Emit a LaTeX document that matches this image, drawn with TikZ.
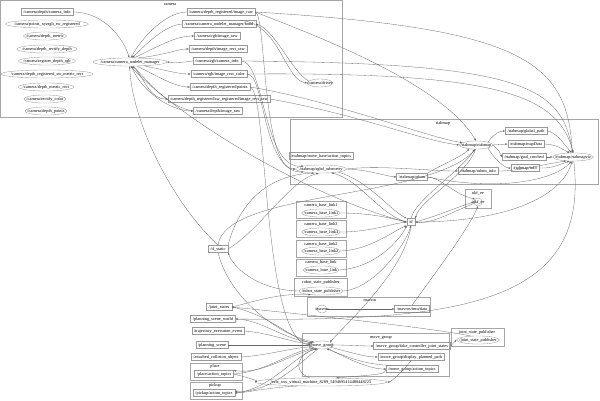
\documentclass[tikz,border=0pt]{standalone}
\usepackage{fontspec}
\setmainfont{Liberation Serif}
\usetikzlibrary{shapes.geometric, arrows.meta}

\tikzset{
    every node/.style={font=\fontsize{4.3}{4.7}\selectfont, text height=3pt, text depth=0.9pt},
    topic/.style={draw=gray!80, rectangle, line width=0.35pt, inner xsep=2.3pt, inner ysep=1.6pt},
    rosnode/.style={draw=gray!80, ellipse, line width=0.35pt, inner xsep=-3.5pt, inner ysep=0.9pt},
    cluster/.style={draw=gray!70, line width=0.4pt},
    link/.style={draw=black!60, line width=0.3pt, -{Triangle[length=2.2pt,width=1.6pt]}},
}

\begin{document}
\begin{tikzpicture}[x=1pt, y=-1pt]
    \useasboundingbox (0,0) rectangle (600,400);

    % clusters
    \draw[cluster] (0.5,0.5) rectangle (342,117);
    \node (camlbl) at (170,4) {camera};
    \draw[cluster] (290,119) rectangle (598,184);
    \node (rtablbl) at (443,123) {rtabmap};
    \draw[cluster] (465,189) rectangle (491,208);
    \node (ukflbl) at (478,193) {ukf\_ee};
    \draw[cluster] (296,201) rectangle (346,218);
    \node (cbla) at (321,205) {camera\_base\_link1};
    \draw[cluster] (296,220) rectangle (346,237);
    \node (cblb) at (321,224) {camera\_base\_link3};
    \draw[cluster] (296,240) rectangle (346,257);
    \node (cblc) at (321,244) {camera\_base\_link2};
    \draw[cluster] (296,259) rectangle (346,276);
    \node (cbld) at (321,262) {camera\_base\_link};
    \draw[cluster] (294,278) rectangle (347,296);
    \node (rsplbl) at (321,282) {robot\_state\_publisher};
    \draw[cluster] (307,297) rectangle (430,316);
    \node (mavlbl) at (370,300) {mavros};
    \draw[cluster] (302,333) rectangle (449,376);
    \node (mglbl) at (381,337) {move\_group};
    \draw[cluster] (451,328) rectangle (504,346);
    \node (jsplbl) at (477,332) {joint\_state\_publisher};
    \draw[cluster] (190,363) rectangle (242,380);
    \node (placelbl) at (215,366) {place};
    \draw[cluster] (190,382) rectangle (242,399);
    \node (picklbl) at (215,385) {pickup};

    % camera
    \node[topic] (cinfo) at (47,12) {/camera/depth/camera\_info};
    \node[rosnode] (ptsxyz) at (47,24) {/camera/points\_xyzrgb\_sw\_registered};
    \node[rosnode] (dmetric) at (45,36) {/camera/depth\_metric};
    \node[rosnode] (drectify) at (47,49) {/camera/depth\_rectify\_depth};
    \node[rosnode] (regrgb) at (47,61) {/camera/register\_depth\_rgb};
    \node[rosnode] (swmetric) at (47,74) {/camera/depth\_registered\_sw\_metric\_rect};
    \node[rosnode] (dmetricrect) at (46,87) {/camera/depth\_metric\_rect};
    \node[rosnode] (rectcolor) at (45,99) {/camera/rectify\_color};
    \node[rosnode] (dpoints) at (46,111) {/camera/depth\_points};
    \node[rosnode] (mgr) at (130,62) {/camera/camera\_nodelet\_manager};
    \node[topic] (regraw) at (221,12) {/camera/depth\_registered/image\_raw};
    \node[topic] (bond) at (219,24) {/camera/camera\_nodelet\_manager/bond};
    \node[topic] (rgbraw) at (217,36) {/camera/rgb/image\_raw};
    \node[topic] (drectraw) at (218,49) {/camera/depth/image\_rect\_raw};
    \node[topic] (rgbinfo) at (217,61) {/camera/rgb/camera\_info};
    \node[topic] (rgbrect) at (219,74) {/camera/rgb/image\_rect\_color};
    \node[topic] (regpts) at (220,87) {/camera/depth\_registered/points};
    \node[topic] (swrect) at (219,99) {/camera/depth\_registered/sw\_registered/image\_rect\_raw};
    \node[topic] (depthraw) at (218,111) {/camera/depth/image\_raw};
    \node[rosnode] (driver) at (320,83) {/camera/driver};

    % rtabmap
    \node[topic] (gpath) at (526,131) {/rtabmap/global\_path};
    \node[rosnode] (rtab) at (476,145) {/rtabmap/rtabmap};
    \node[topic] (mapdata) at (526,144) {/rtabmap/mapData};
    \node[topic] (goal) at (524,157) {/rtabmap/goal\_reached};
    \node[rosnode] (viz) at (573,157) {/rtabmap/rtabmapviz};
    \node[topic] (rinfo) at (525,168) {/rtabmap/info};
    \node[topic] (odominfo) at (478,171) {/rtabmap/odom\_info};
    \node[topic] (mbase) at (321,156) {/rtabmap/move\_base/action\_topics};
    \node[rosnode] (odomnode) at (321,169) {/rtabmap/rgbd\_odometry};
    \node[topic] (odom) at (412,177) {/rtabmap/odom};

    % transforms
    \node[rosnode] (ukf) at (478,202) {/ukf\_ee};
    \node[topic] (tf) at (411,222) {/tf};
    \node[topic] (tfstatic) at (218,249) {/tf\_static};
    \node[rosnode] (cbla-n) at (321,213) {/camera\_base\_link1};
    \node[rosnode] (cblb-n) at (321,232) {/camera\_base\_link3};
    \node[rosnode] (cblc-n) at (321,251) {/camera\_base\_link2};
    \node[rosnode] (cbld-n) at (321,270) {/camera\_base\_link};
    \node[rosnode] (rsp) at (321,291) {/robot\_state\_publisher};
    \node[rosnode] (mavros) at (322,309) {/mavros};
    \node[topic] (imu) at (412,309) {/mavros/imu/data};

    % move group
    \node[topic] (jstates) at (219,307) {/joint\_states};
    \node[topic] (psw) at (213,319) {/planning\_scene\_world};
    \node[topic] (tee) at (218,331) {/trajectory\_execution\_event};
    \node[topic] (ps) at (212,345) {/planning\_scene};
    \node[topic] (aco) at (216,357) {/attached\_collision\_object};
    \node[topic] (placeat) at (214,374) {/place/action\_topics};
    \node[topic] (pickat) at (214,393) {/pickup/action\_topics};
    \node[rosnode] (mg) at (322,345) {/move\_group};
    \node[topic] (fcjs) at (412,346) {/move\_group/fake\_controller\_joint\_states};
    \node[topic] (dpp) at (411,357) {/move\_group/display\_planned\_path};
    \node[topic] (mgat) at (412,369) {/move\_group/action\_topics};
    \node[rosnode] (jsp) at (478,340) {/joint\_state\_publisher};
    \node[rosnode] (rviz) at (321,382) {/rviz\_xxx\_virtual\_machine\_8289\_5494695414488448225};

    % camera links
    \draw[link] (cinfo.east) .. controls (105,12) and (124,40) .. (mgr.100);
    \draw[link] (regraw.west) .. controls (165,12) and (140,40) .. (mgr.75);
    \draw[link] (bond.west) .. controls (165,25) and (145,45) .. (mgr.60);
    \draw[link] (mgr.45) .. controls (155,48) and (175,36) .. (rgbraw.west);
    \draw[link] (mgr.25) .. controls (165,55) and (178,49) .. (drectraw.west);
    \draw[link] (rgbinfo.west) .. controls (185,62) and (178,63) .. (mgr.east);
    \draw[link] (mgr.-15) .. controls (165,70) and (178,74) .. (rgbrect.west);
    \draw[link] (mgr.-30) .. controls (155,75) and (175,87) .. (regpts.west);
    \draw[link] (mgr.-50) .. controls (145,80) and (150,99) .. (swrect.west);
    \draw[link] (mgr.-70) .. controls (140,90) and (170,111) .. (depthraw.west);
    \draw[link] (depthraw.west) .. controls (165,106) and (148,80) .. (mgr.-60);
    \draw[link] (bond.10) .. controls (280,24) and (285,80) .. (driver.west);
    \draw[link] (driver.170) .. controls (292,72) and (275,30) .. (bond.east);

    % camera to rtabmap and move group
    \draw[link] (regraw.east) .. controls (520,28) and (568,60) .. (viz.100);
    \draw[link] (rgbinfo.east) .. controls (520,63) and (562,85) .. (viz.95);
    \draw[link] (rgbrect.east) .. controls (500,72) and (558,95) .. (viz.85);
    \draw[link] (regraw.east) .. controls (300,30) and (440,80) .. (rtab.north);
    \draw[link] (swrect.east) .. controls (360,115) and (420,140) .. (rtab.west);
    \draw[link] (regpts.east) .. controls (330,100) and (430,138) .. (rtab.170);
    \draw[link] (regraw.east) .. controls (266,14) and (262,168) .. (odomnode.west);
    \draw[link] (rgbinfo.east) .. controls (265,61) and (263,170) .. (odomnode.170);
    \draw[link] (rgbrect.east) .. controls (265,74) and (262,172) .. (odomnode.190);
    \draw[link] (regpts.east) .. controls (268,90) and (262,340) .. (mg.west);

    % rtabmap links
    \draw[link] (odomnode.east) .. controls (370,170) and (385,176) .. (odom.west);
    \draw[link] (odom.east) .. controls (440,177) and (455,195) .. (ukf.north west);
    \draw[link] (odom.north east) .. controls (440,165) and (460,158) .. (rtab.-150);
    \draw[link] (odom.east) .. controls (500,192) and (555,180) .. (viz.-110);
    \draw[link] (odomnode.east) .. controls (380,165) and (430,171) .. (odominfo.west);
    \draw[link] (odominfo.east) .. controls (520,171) and (540,165) .. (viz.-150);
    \draw[link] (rtab.north east) .. controls (495,133) and (500,131) .. (gpath.west);
    \draw[link] (rtab.east) -- (mapdata.west);
    \draw[link] (rtab.east) .. controls (500,152) .. (goal.west);
    \draw[link] (rtab.south east) .. controls (495,160) and (505,168) .. (rinfo.west);
    \draw[link] (gpath.east) .. controls (555,131) and (565,145) .. (viz.110);
    \draw[link] (mapdata.east) .. controls (555,145) .. (viz.130);
    \draw[link] (goal.east) -- (viz.west);
    \draw[link] (rinfo.east) .. controls (550,168) .. (viz.-130);

    % transforms
    \draw[link] (tfstatic.north) .. controls (170,200) and (132,120) .. (mgr.-95);
    \draw[link] (tf.west) .. controls (300,195) and (170,110) .. (mgr.-80);
    \draw[link] (tfstatic.north east) .. controls (240,200) and (270,175) .. (odomnode.-150);
    \draw[link] (tfstatic.east) .. controls (260,230) and (290,180) .. (odomnode.-120);
    \draw[link] (tfstatic.north) .. controls (225,190) and (430,200) .. (rtab.-100);
    \draw[link] (cbla-n.east) .. controls (370,213) and (390,218) .. (tf.west);
    \draw[link] (cblb-n.east) .. controls (370,232) and (390,224) .. (tf.west);
    \draw[link] (cblc-n.east) .. controls (370,250) and (395,230) .. (tf.south west);
    \draw[link] (cbld-n.east) .. controls (375,268) and (400,240) .. (tf.south west);
    \draw[link] (rsp.east) .. controls (375,288) and (405,245) .. (tf.south);
    \draw[link] (rsp.west) .. controls (260,290) and (235,270) .. (tfstatic.south east);
    \draw[link] (tf.west) .. controls (380,215) and (360,180) .. (odomnode.-20);
    \draw[link] (odomnode.-10) .. controls (370,182) and (390,210) .. (tf.north west);
    \draw[link] (tf.north) .. controls (415,200) and (462,170) .. (rtab.-110);
    \draw[link] (rtab.-95) .. controls (467,175) and (420,200) .. (tf.north east);
    \draw[link] (tf.east) .. controls (440,215) and (455,208) .. (ukf.west);
    \draw[link] (ukf.200) .. controls (452,212) and (432,224) .. (tf.east);
    \draw[link] (tf.east) .. controls (500,222) and (560,200) .. (viz.-100);
    \draw[link] (mavros.east) -- (imu.west);
    \draw[link] (imu.north) .. controls (430,280) and (468,230) .. (ukf.south);
    \draw[link] (viz.-80) .. controls (590,300) and (470,322) .. (psw.east);

    % move group links
    \draw[link] (jstates.east) .. controls (260,300) and (280,293) .. (rsp.200);
    \draw[link] (jstates.east) .. controls (270,315) and (290,338) .. (mg.170);
    \draw[link] (jsp.150) .. controls (420,326) and (280,312) .. (jstates.east);
    \draw[link] (tf.south) .. controls (405,270) and (350,320) .. (mg.north east);
    \draw[link] (tfstatic.south) .. controls (230,300) and (280,335) .. (mg.160);
    \draw[link] (psw.east) .. controls (260,319) and (285,340) .. (mg.165);
    \draw[link] (tee.east) .. controls (270,333) and (290,342) .. (mg.175);
    \draw[link] (ps.east) -- (mg.west);
    \draw[link] (aco.east) .. controls (270,355) and (290,348) .. (mg.190);
    \draw[link] (placeat.east) .. controls (265,372) and (290,352) .. (mg.200);
    \draw[link] (mg.205) .. controls (285,357) and (262,374) .. (placeat.10);
    \draw[link] (pickat.east) .. controls (270,390) and (295,355) .. (mg.215);
    \draw[link] (mg.225) .. controls (300,362) and (272,393) .. (pickat.5);
    \draw[link] (mg.east) .. controls (350,345) and (360,346) .. (fcjs.west);
    \draw[link] (mg.-15) .. controls (350,352) and (365,357) .. (dpp.west);
    \draw[link] (mg.-30) .. controls (350,360) and (370,369) .. (mgat.west);
    \draw[link] (mgat.170) .. controls (365,365) and (345,356) .. (mg.-40);
    \draw[link] (fcjs.east) -- (jsp.west);
    \draw[link] (dpp.south) .. controls (400,375) and (390,382) .. (rviz.east);
    \draw[link] (mgat.west) .. controls (385,374) .. (rviz.15);
    \draw[link] (rviz.160) .. controls (290,370) and (300,352) .. (mg.-140);
    \draw[link] (placeat.east) .. controls (250,378) and (258,381) .. (rviz.west);
    \draw[link] (rviz.190) .. controls (262,388) and (252,392) .. (pickat.east);
\end{tikzpicture}
\end{document}
